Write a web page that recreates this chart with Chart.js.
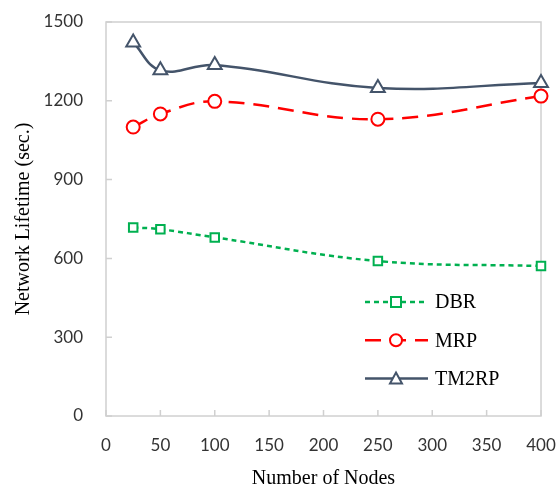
<!DOCTYPE html>
<html>
<head>
<meta charset="utf-8">
<script src="https://cdn.jsdelivr.net/npm/chart.js@4.4.1/dist/chart.umd.min.js"></script>
<style>
  html, body { margin: 0; padding: 0; background: #fff; }
  #wrap { width: 557px; height: 487px; position: relative; }
</style>
</head>
<body>
<div id="wrap"><canvas id="chart1" width="557" height="487"></canvas></div>
<script>
// data
var nodos = [25, 50, 100, 250, 400];
var dbr = [718, 711, 680, 590, 571];
var mrp = [1100, 1150, 1198, 1130, 1218];
var tm2rp = [1422, 1316, 1336, 1249, 1268];
var etiquetas = ["DBR", "MRP", "TM2RP"];
var xTitulo = "Number of Nodes";
var yTitulo = "Network Lifetime (sec.)";

function puntos(vals){
    var arr = [];
    for (var i = 0; i < nodos.length; i++) arr.push({x: nodos[i], y: vals[i]});
    return arr;
}

function marcador(ctx, estilo, x, y, color){
    ctx.save();
    ctx.setLineDash([]);
    ctx.lineWidth = 2;
    ctx.strokeStyle = color;
    ctx.fillStyle = "#fff";
    ctx.beginPath();
    if (estilo == "rect"){
        ctx.rect(x - 5, y - 5, 10, 10);
    } else if (estilo == "circle"){
        ctx.arc(x, y, 6, 0, Math.PI * 2);
    } else {
        ctx.moveTo(x, y - 6);
        ctx.lineTo(x + 6, y + 5);
        ctx.lineTo(x - 6, y + 5);
        ctx.closePath();
    }
    ctx.fill();
    ctx.stroke();
    ctx.restore();
}

// quitar el relleno automatico de las escalas
function sinRelleno(scale){
    scale.paddingLeft = 0;
    scale.paddingRight = 0;
    scale.paddingTop = 0;
    scale.paddingBottom = 0;
}

// frame + inward ticks + legend inside
var marco = {
    id: "marco",
    beforeDatasetsDraw: function(chart){
        var ctx = chart.ctx, a = chart.chartArea;
        ctx.save();
        ctx.strokeStyle = "#d0d0d0";
        ctx.lineWidth = 1.5;
        ctx.strokeRect(a.left, a.top, a.right - a.left, a.bottom - a.top);
        var sx = chart.scales.x, sy = chart.scales.y;
        ctx.beginPath();
        sx.ticks.forEach(function(t){
            var px = sx.getPixelForValue(t.value);
            ctx.moveTo(px, a.bottom);
            ctx.lineTo(px, a.bottom - 6);
        });
        sy.ticks.forEach(function(t){
            var py = sy.getPixelForValue(t.value);
            ctx.moveTo(a.left, py);
            ctx.lineTo(a.left + 6, py);
        });
        ctx.stroke();
        ctx.restore();
    },
    afterDatasetsDraw: function(chart){
        var ctx = chart.ctx, a = chart.chartArea;
        var x0 = a.left + 259, y0 = a.top + 280;
        chart.data.datasets.forEach(function(ds, i){
            var y = y0 + i * 38.3;
            ctx.save();
            ctx.strokeStyle = ds.borderColor;
            ctx.lineWidth = ds.borderWidth;
            ctx.setLineDash(ds.borderDash || []);
            ctx.beginPath();
            ctx.moveTo(x0, y);
            ctx.lineTo(x0 + 63, y);
            ctx.stroke();
            ctx.restore();
            marcador(ctx, ds.pointStyle, x0 + 31, y, ds.borderColor);
            ctx.save();
            ctx.fillStyle = "#000";
            ctx.font = "20px 'Liberation Serif'";
            ctx.textBaseline = "middle";
            ctx.fillText(ds.label, x0 + 70, y + 1);
            ctx.restore();
        });
    }
};

function Mostrar_Grafico(){
    var config = {
        type: "line",
        data: {
            datasets: [{
                label: etiquetas[0],
                data: puntos(dbr),
                borderColor: "#00B050",
                borderWidth: 2.5,
                borderDash: [5, 4],
                pointStyle: "rect",
                pointRadius: 6,
                pointBorderWidth: 2,
                pointBackgroundColor: "#fff",
                pointBorderColor: "#00B050",
                tension: 0.4,
                clip: false
            }, {
                label: etiquetas[1],
                data: puntos(mrp),
                borderColor: "#FF0000",
                borderWidth: 2.5,
                borderDash: [16, 9],
                pointStyle: "circle",
                pointRadius: 6.5,
                pointBorderWidth: 2,
                pointBackgroundColor: "#fff",
                pointBorderColor: "#FF0000",
                tension: 0.4,
                clip: false
            }, {
                label: etiquetas[2],
                data: puntos(tm2rp),
                borderColor: "#44546A",
                borderWidth: 2.5,
                pointStyle: "triangle",
                pointRadius: 8,
                pointBorderWidth: 2,
                pointBackgroundColor: "#fff",
                pointBorderColor: "#44546A",
                tension: 0.4,
                clip: false
            }]
        },
        options: {
            responsive: false,
            animation: false,
            layout: { padding: { left: 7, right: 16, top: 22, bottom: 0 } },
            plugins: { legend: { display: false }, tooltip: { enabled: false } },
            scales: {
                x: {
                    type: "linear", min: 0, max: 400,
                    ticks: { stepSize: 50, color: "#333", padding: 19.5, maxRotation: 0, font: { family: "Lato", size: 17 },
                             callback: function(v){ return String(v); } },
                    grid: { display: false, drawTicks: false, tickLength: 0 },
                    border: { display: false },
                    title: { display: true, text: xTitulo, color: "#000", padding: { top: 0, bottom: -4 }, font: { family: "Liberation Serif", size: 20 } },
                    afterFit: function(scale){ sinRelleno(scale); scale.height = 71; }
                },
                y: {
                    min: 0, max: 1500,
                    ticks: { stepSize: 300, color: "#333", padding: 23, font: { family: "Lato", size: 17 },
                             callback: function(v){ return String(v); } },
                    grid: { display: false, drawTicks: false, tickLength: 0 },
                    border: { display: false },
                    title: { display: true, text: yTitulo, color: "#000", padding: { top: 5, bottom: 0 }, font: { family: "Liberation Serif", size: 20 } },
                    afterFit: function(scale){ sinRelleno(scale); scale.width = 99; }
                }
            }
        },
        plugins: [marco]
    };
    var canvas = document.getElementById("chart1").getContext("2d");
    window.grafico = new Chart(canvas, config);
}
Mostrar_Grafico();
</script>
</body>
</html>
